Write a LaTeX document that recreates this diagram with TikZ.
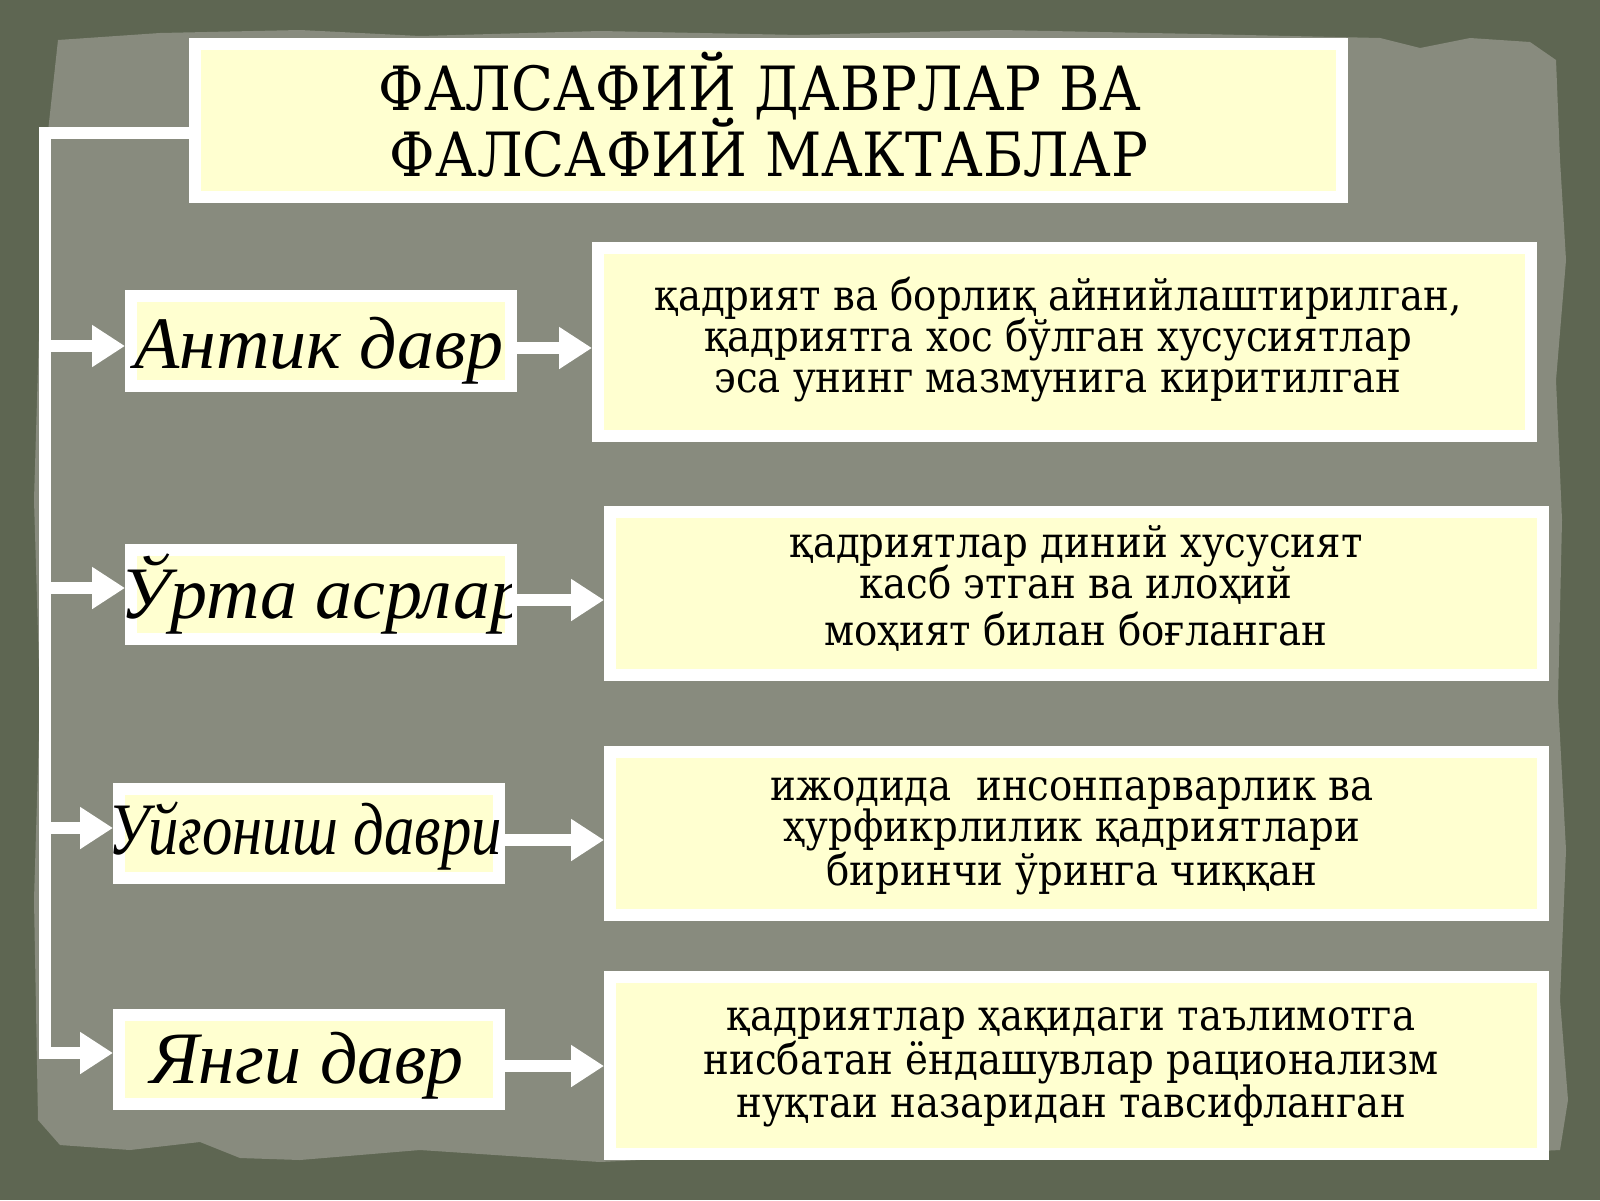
\documentclass[tikz,border=0pt]{standalone}
\usepackage{fontspec}
\setmainfont{DejaVu Serif}
\newfontfamily\titlefont{DejaVu Serif Condensed}
\newfontfamily\descfont{DejaVu Serif Condensed}
\newfontfamily\labfont{Liberation Serif}
\usetikzlibrary{arrows.meta}
\definecolor{outerbg}{RGB}{94,102,82}
\definecolor{paper}{RGB}{136,139,126}
\definecolor{boxyellow}{RGB}{255,255,208}
\tikzset{
  box/.style={fill=boxyellow, draw=white, line width=12pt, inner sep=0pt, outer sep=6pt},
  conn/.style={draw=white, line width=12pt},
  arr/.style={conn, -{Triangle[length=33pt,width=40pt]}},
  ttl/.style={font=\titlefont\fontsize{61}{70}\selectfont, anchor=base, inner sep=0pt},
  dsc/.style={font=\descfont\fontsize{43}{48}\selectfont, anchor=base, inner sep=0pt},
  lab/.style={font=\labfont\itshape\fontsize{74}{80}\selectfont, inner sep=0pt}
}
\begin{document}
\begin{tikzpicture}[x=1pt,y=-1pt]
\useasboundingbox (0,0) rectangle (1600,1200);
% background
\fill[outerbg] (0,0) rectangle (1600,1200);
\fill[paper] (58,40) -- (160,33) -- (300,30) -- (420,36) -- (600,31) -- (800,35) -- (1000,30) -- (1200,34) -- (1380,38) -- (1420,48) -- (1470,38) -- (1530,42) -- (1556,60) -- (1560,160) -- (1566,260) -- (1556,380) -- (1562,520) -- (1558,700) -- (1566,850) -- (1560,1000) -- (1568,1100) -- (1560,1150)
 -- (1400,1158) -- (1200,1150) -- (1000,1160) -- (800,1152) -- (600,1162) -- (420,1150) -- (300,1160) -- (240,1158) -- (200,1142) -- (130,1150) -- (60,1145) -- (38,1120) -- (34,900) -- (40,700) -- (34,500) -- (40,300) -- (46,150) -- cycle;
% boxes
\node[box, minimum width=1147pt, minimum height=153pt] (title) at (768.5,120.5) {};
\node[box, minimum width=933pt, minimum height=188pt] (d1) at (1064.5,342) {};
\node[box, minimum width=933pt, minimum height=163pt] (d2) at (1076.5,593.5) {};
\node[box, minimum width=933pt, minimum height=163pt] (d3) at (1076.5,833.5) {};
\node[box, minimum width=933pt, minimum height=177pt] (d4) at (1076.5,1065.5) {};
\node[box, minimum width=380pt, minimum height=90pt] (l1) at (321,341) {};
\node[box, minimum width=380pt, minimum height=89pt] (l2) at (321,594.5) {};
\node[box, minimum width=380pt, minimum height=89pt] (l3) at (309,833.5) {};
\node[box, minimum width=380pt, minimum height=89pt] (l4) at (309,1059.5) {};
% title text
\node[ttl] (ta) at (760,110) {ФАЛСАФИЙ ДАВРЛАР ВА};
\node[ttl] (tb) at (769,176) {ФАЛСАФИЙ МАКТАБЛАР};
% description texts
\node[dsc] (d1a) at (1058,310) {қадрият ва борлиқ айнийлаштирилган,};
\node[dsc] (d1b) at (1058,351) {қадриятга хос бўлган хусусиятлар};
\node[dsc] (d1c) at (1058,392) {эса унинг мазмунига киритилган};
\node[dsc] (d2a) at (1076,557) {қадриятлар диний хусусият};
\node[dsc] (d2b) at (1076,598) {касб этган ва илоҳий};
\node[dsc] (d2c) at (1076,645) {моҳият билан боғланган};
\node[dsc] (d3a) at (1072,800) {ижодида\ \ инсонпарварлик ва};
\node[dsc] (d3b) at (1072,841) {ҳурфикрлилик қадриятлари};
\node[dsc] (d3c) at (1072,885) {биринчи ўринга чиққан};
\node[dsc] (d4a) at (1071,1030) {қадриятлар ҳақидаги таълимотга};
\node[dsc] (d4b) at (1071,1074) {нисбатан ёндашувлар рационализм};
\node[dsc] (d4c) at (1071,1117) {нуқтаи назаридан тавсифланган};
% label texts
\node[lab, anchor=base] (la) at (319,368) {Антик давр};
\begin{scope}
\clip (l2.south west) rectangle ([xshift=-6pt]l2.north east);
\node[lab, anchor=base west] (lb) at (120,618) {Ўрта асрлар};
\end{scope}
\begin{scope}
\clip (l3.south west) rectangle ([xshift=-4pt]l3.north east);
\node[lab, anchor=base west, xscale=0.82] (lc) at (108,854) {Уйғониш даври};
\end{scope}
\node[lab, anchor=base] (ld) at (307,1083) {Янги давр};
% connectors
\coordinate (top) at (45,133);
\coordinate (b1) at (45,346);
\coordinate (b2) at (45,588);
\coordinate (b3) at (45,828);
\coordinate (b4) at (45,1053);
\draw[arr] (title.west |- top) -- (top) -- (b4) -- (b4 -| l4.west);
\draw[arr] (b1) -- (b1 -| l1.west);
\draw[arr] (b2) -- (b2 -| l2.west);
\draw[arr] (b3) -- (b3 -| l3.west);
\draw[arr] (l1.east |- 0,348) -- (d1.west |- 0,348);
\draw[arr] (l2.east |- 0,600) -- (d2.west |- 0,600);
\draw[arr] (l3.east |- 0,840) -- (d3.west |- 0,840);
\draw[arr] (l4.east |- 0,1066) -- (d4.west |- 0,1066);
\end{tikzpicture}
\end{document}
